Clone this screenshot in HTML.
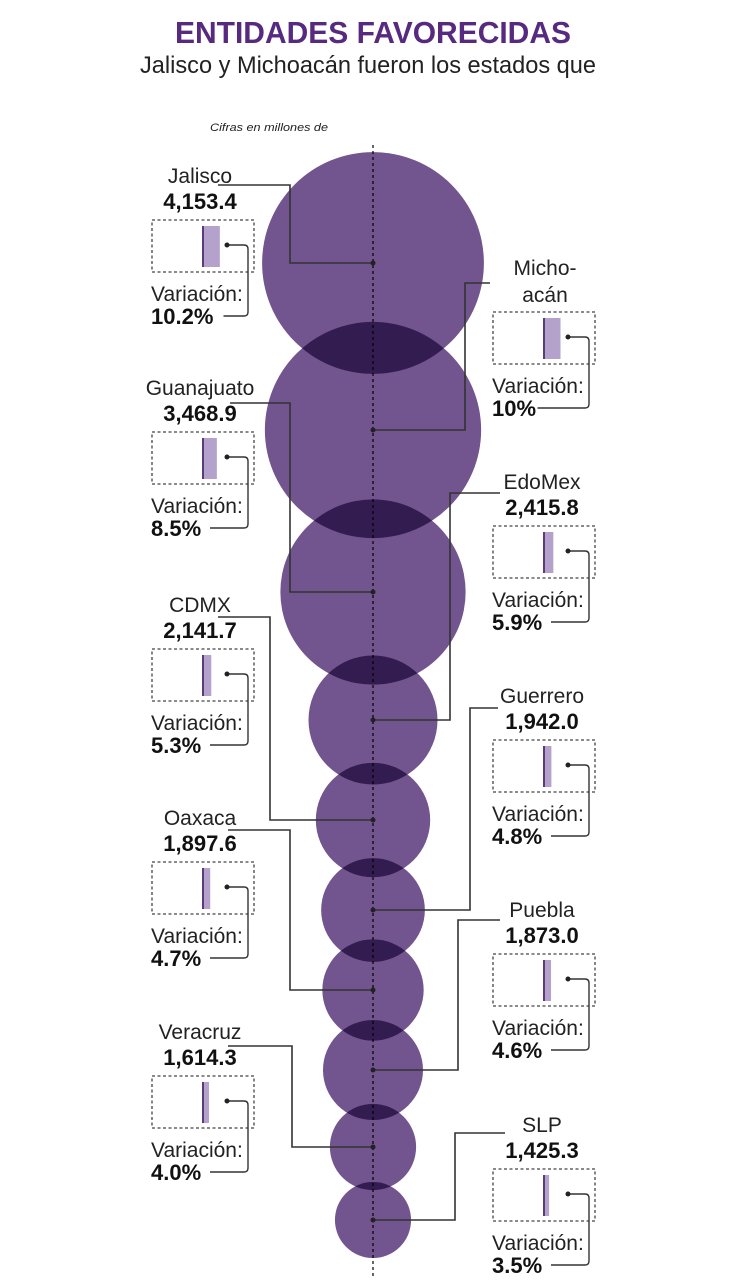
<!DOCTYPE html>
<html><head><meta charset="utf-8">
<style>
html,body{margin:0;padding:0;background:#fff;}
svg{display:block;}
text{font-family:"Liberation Sans",sans-serif;}
</style></head>
<body>
<svg id="chart" width="750" height="1281" viewBox="0 0 750 1281">
  <text x="373" y="43" text-anchor="middle" font-size="31" font-weight="bold" fill="#57297f" textLength="396" lengthAdjust="spacingAndGlyphs">ENTIDADES FAVORECIDAS</text>
  <text x="368" y="73" text-anchor="middle" font-size="24" fill="#222" textLength="456" lengthAdjust="spacingAndGlyphs">Jalisco y Michoacán fueron los estados que</text>
  <text x="210" y="131" font-size="11" font-style="italic" fill="#222" textLength="118" lengthAdjust="spacingAndGlyphs">Cifras en millones de</text>
  <line x1="373" y1="145" x2="373" y2="1276" stroke="#333" stroke-width="1.5" stroke-dasharray="3,3"/>
  <g id="circles"></g>
  <g id="leaders"></g>
  <g id="labels"></g>
</svg>
<script>
const states = ["Jalisco","Michoacán","Guanajuato","EdoMex","CDMX","Guerrero","Oaxaca","Puebla","Veracruz","SLP"];
const amounts = [4153.4,4050.0,3468.9,2415.8,2141.7,1942.0,1897.6,1873.0,1614.3,1425.3];
const valueLabels = ["4,153.4","","3,468.9","2,415.8","2,141.7","1,942.0","1,897.6","1,873.0","1,614.3","1,425.3"];
const variations = [10.2,10,8.5,5.9,5.3,4.8,4.7,4.6,4.0,3.5];
const variationLabels = ["10.2%","10%","8.5%","5.9%","5.3%","4.8%","4.7%","4.6%","4.0%","3.5%"];

// layout (not data)
const CX = 373;
const centersY = [263,430,592,720,820,910,990,1070,1147,1220];
const sides = ["L","R","L","R","L","R","L","R","L","R"];
const nameY = [176,268,388,482,605,696,818,910,1032,1125];
const leaderY = [185,283,403,493,617,708,830,920,1046,1133];
const leaderStart = [218,490,230,500,218,498,228,500,228,505];
const elbowX = [290,465,290,450,270,470,290,458,292,455];

const NS="http://www.w3.org/2000/svg";
function mk(tag,attrs,parent){const e=document.createElementNS(NS,tag);for(const k in attrs)e.setAttribute(k,attrs[k]);parent.appendChild(e);return e;}
const rScale = v => v*0.0267;
const barScale = v => v*1.75;

const gC=document.getElementById('circles');
states.forEach((s,i)=>{
  const c=mk('circle',{cx:CX,cy:centersY[i],r:rScale(amounts[i]),fill:'#72548e',style:'mix-blend-mode:multiply'},gC);
  
  
});

const gL=document.getElementById('leaders');
states.forEach((s,i)=>{
  const p=mk('path',{d:`M${leaderStart[i]},${leaderY[i]} H${elbowX[i]} V${centersY[i]} H${CX}`,fill:'none',stroke:'#333','stroke-width':1.6},gL);
  
  
  const d=mk('circle',{cx:CX,cy:centersY[i],r:2.5,fill:'#222'},gL);
  
  
});

const gT=document.getElementById('labels');
states.forEach((s,i)=>{
  const L=sides[i]==="L";
  const tc=L?200:542, boxX=L?152:493, barX=L?202:543;
  const g=mk('g',{},gT);
  
  
  let y=nameY[i]+7;
  let boxTop;
  if(s==="Michoacán"){
    const t1=mk('text',{x:tc+3,y:y,'text-anchor':'middle','font-size':21,fill:'#222'},g); t1.textContent="Micho-";
     
    const t2=mk('text',{x:tc+3,y:y+27,'text-anchor':'middle','font-size':21,fill:'#222'},g); t2.textContent="acán";
     
    boxTop=nameY[i]+44;
  } else {
    const t1=mk('text',{x:tc,y:y,'text-anchor':'middle','font-size':21,fill:'#222'},g); t1.textContent=s;
     
    const t2=mk('text',{x:tc,y:y+26,'text-anchor':'middle','font-size':22,'font-weight':'bold',fill:'#111'},g); t2.textContent=valueLabels[i];
     
    boxTop=nameY[i]+44;
  }
  const box=mk('rect',{x:boxX,y:boxTop,width:102,height:52,fill:'none',stroke:'#444','stroke-width':1.3,'stroke-dasharray':'3,2.5'},g);
   
  const bar=mk('rect',{x:barX,y:boxTop+6,width:barScale(variations[i]),height:41,fill:'#b4a2cc'},g);
   
  const edge=mk('rect',{x:barX,y:boxTop+6,width:2,height:41,fill:'#5a3d78'},g);
   
  const vy=boxTop+74, py=boxTop+96;
  const vt=mk('text',{x:boxX-1,y:vy+7,'font-size':21,fill:'#222'},g); vt.textContent="Variación:";
   
  const pt=mk('text',{x:boxX-1,y:py+8,'font-size':22,'font-weight':'bold',fill:'#111'},g); pt.textContent=variationLabels[i];
   
  const dx=barX+25, dy=boxTop+25, rx=boxX+96;
  const pctW=variationLabels[i].length*13.5;
  const cl=mk('path',{d:`M${dx},${dy} H${rx-4} Q${rx},${dy} ${rx},${dy+4} V${py-4} Q${rx},${py} ${rx-4},${py} H${boxX+pctW+4}`,fill:'none',stroke:'#333','stroke-width':1.4},g);
   
  const cd=mk('circle',{cx:dx,cy:dy,r:2.5,fill:'#222'},g);
   
});
</script>
</body></html>
